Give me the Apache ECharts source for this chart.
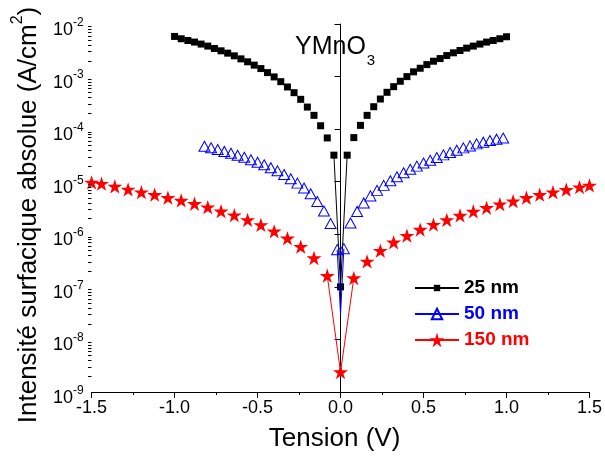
<!DOCTYPE html>
<html><head><meta charset="utf-8">
<script src="https://cdn.jsdelivr.net/npm/echarts@6/dist/echarts.min.js"></script>
<style>html,body{margin:0;padding:0;background:#fff}#c{width:605px;height:458px}</style>
</head><body><div id="c"></div>
<script>
// ---------- data ----------
const seriesNames = ['25 nm', '50 nm', '150 nm'];
const seriesColors = ['#000000', '#0000FF', '#FF0000'];

const v25 = [-1.00,-0.96,-0.92,-0.88,-0.84,-0.80,-0.76,-0.72,-0.68,-0.64,-0.60,-0.56,-0.52,-0.48,-0.44,-0.40,-0.36,-0.32,-0.28,-0.24,-0.20,-0.16,-0.12,-0.08,-0.04,
  0,
  0.04,0.08,0.12,0.16,0.20,0.24,0.28,0.32,0.36,0.40,0.44,0.48,0.52,0.56,0.60,0.64,0.68,0.72,0.76,0.80,0.84,0.88,0.92,0.96,1.00];
const j25 = [5.80e-3,5.24e-3,4.86e-3,4.53e-3,4.15e-3,3.80e-3,3.42e-3,3.09e-3,2.79e-3,2.48e-3,2.17e-3,1.91e-3,1.65e-3,1.42e-3,1.19e-3,9.85e-4,8.0e-4,6.34e-4,4.94e-4,3.69e-4,2.63e-4,1.83e-4,1.16e-4,6.8e-5,3.2e-5,
  1.0e-7,
  3.2e-5,6.9e-5,1.18e-4,1.83e-4,2.67e-4,3.74e-4,5.02e-4,6.43e-4,8.15e-4,9.98e-4,1.23e-3,1.44e-3,1.69e-3,1.96e-3,2.20e-3,2.51e-3,2.83e-3,3.13e-3,3.48e-3,3.80e-3,4.15e-3,4.53e-3,4.86e-3,5.24e-3,5.72e-3];

const v50 = [-0.82,-0.78,-0.74,-0.70,-0.66,-0.62,-0.58,-0.54,-0.50,-0.46,-0.42,-0.38,-0.34,-0.30,-0.26,-0.22,-0.18,-0.14,-0.10,-0.06,-0.02,
  0,
  0.02,0.06,0.10,0.14,0.18,0.22,0.26,0.30,0.34,0.38,0.42,0.46,0.50,0.54,0.58,0.62,0.66,0.70,0.74,0.78,0.82,0.86,0.90,0.94,0.98];
const j50 = [4.73e-5,4.43e-5,4.09e-5,3.77e-5,3.48e-5,3.19e-5,2.92e-5,2.61e-5,2.34e-5,2.10e-5,1.85e-5,1.61e-5,1.37e-5,1.14e-5,9.4e-6,7.6e-6,5.9e-6,4.2e-6,2.77e-6,1.6e-6,5.1e-7,
  3.0e-8,
  5.33e-7,1.64e-6,2.72e-6,3.95e-6,5.37e-6,6.84e-6,8.51e-6,1.04e-5,1.24e-5,1.48e-5,1.72e-5,1.98e-5,2.27e-5,2.56e-5,2.89e-5,3.24e-5,3.60e-5,3.97e-5,4.40e-5,4.80e-5,5.24e-5,5.65e-5,6.06e-5,6.44e-5,6.79e-5];

const v150 = [-1.50,-1.44,-1.36,-1.28,-1.20,-1.12,-1.04,-0.96,-0.88,-0.80,-0.72,-0.64,-0.56,-0.48,-0.40,-0.32,-0.24,-0.16,-0.08,
  0,
  0.08,0.16,0.24,0.32,0.40,0.48,0.56,0.64,0.72,0.80,0.88,0.96,1.04,1.12,1.20,1.28,1.36,1.44,1.50];
const j150 = [9.72e-6,9.18e-6,8.15e-6,7.14e-6,6.34e-6,5.66e-6,4.96e-6,4.40e-6,3.81e-6,3.28e-6,2.75e-6,2.31e-6,1.88e-6,1.51e-6,1.14e-6,8.39e-7,5.82e-7,3.54e-7,1.63e-7,
  2.4e-9,
  1.47e-7,3.05e-7,4.89e-7,7.04e-7,9.44e-7,1.23e-6,1.53e-6,1.88e-6,2.28e-6,2.72e-6,3.19e-6,3.74e-6,4.27e-6,4.96e-6,5.66e-6,6.34e-6,7.05e-6,7.91e-6,8.5e-6];

const xTicks = [-1.5, -1.0, -0.5, 0, 0.5, 1.0, 1.5];
const xTickLabels = ['-1.5', '-1.0', '-0.5', '0.0', '0.5', '1.0', '1.5'];
const yTickExponents = [-9, -8, -7, -6, -5, -4, -3, -2];
const yTickLabels = ['-9', '-8', '-7', '-6', '-5', '-4', '-3', '-2'];

const titleMain = 'YMnO';
const titleSub = '3';
const xTitle = 'Tension (V)';
const yTitleMain = 'Intensité surfacique absolue (A/cm';
const yTitleSup = '2';
const yTitleEnd = ')';

// ---------- build ----------
const FONT = '"Liberation Sans", Arial, sans-serif';
const STAR = 'path://M50,0L61.23,34.55L97.55,34.55L68.17,55.9L79.39,90.45L50,69.1L20.61,90.45L31.83,55.9L2.45,34.55L38.77,34.55Z';

// line segments are only drawn next to V = 0 (elsewhere symbols only)
function buildData(vs, js, hideZeroSymbol) {
  const out = [];
  for (let i = 0; i < vs.length; i++) {
    const item = { value: [vs[i], js[i]] };
    if (vs[i] === 0 && hideZeroSymbol) item.symbolSize = 0;
    out.push(item);
    if (i < vs.length - 1 && vs[i] !== 0 && vs[i + 1] !== 0) {
      out.push({ value: [vs[i], '-'] });
    }
  }
  return out;
}

const minorY = [];
for (let n = 0; n < yTickExponents.length - 1; n++) {
  for (let k = 2; k <= 9; k++) minorY.push([xTicks[0], k * Math.pow(10, yTickExponents[n])]);
}

const chart = echarts.init(document.getElementById('c'), null, { renderer: 'canvas' });

function legendFor(i, top, itemHeight) {
  return {
    data: [seriesNames[i]],
    left: 414, top: top, orient: 'vertical', padding: 0,
    itemWidth: 44, itemHeight: itemHeight,
    selectedMode: false,
    textStyle: { fontFamily: FONT, fontSize: 19, fontWeight: 'bold', color: seriesColors[i], lineHeight: 20 }
  };
}

chart.setOption({
  animation: false,
  backgroundColor: '#fff',
  title: {
    text: '{a|' + titleMain + '}{b|' + titleSub + '}',
    left: 295, top: 35, padding: 0,
    textStyle: {
      fontWeight: 'normal',
      rich: {
        a: { fontFamily: FONT, fontSize: 25, fontWeight: 'normal', lineHeight: 30, verticalAlign: 'top', color: '#000' },
        b: { fontFamily: FONT, fontSize: 15, fontWeight: 'normal', lineHeight: 15, verticalAlign: 'top', padding: [18, 0, 0, 1], color: '#000' }
      }
    }
  },
  legend: [legendFor(0, 278, 8), legendFor(1, 304, 13), legendFor(2, 330, 18)],
  grid: { left: 91, right: 14, top: 24, bottom: 66, containLabel: false },
  xAxis: {
    type: 'value', min: -1.5, max: 1.5, interval: 0.5,
    name: xTitle, nameLocation: 'middle', nameGap: 34,
    nameTextStyle: { fontFamily: FONT, fontSize: 26, color: '#000', padding: [0, 12, 0, 0] },
    axisLine: { show: true, onZero: false, lineStyle: { color: '#000', width: 1 } },
    axisTick: { show: true, inside: false, length: 6, lineStyle: { color: '#000' } },
    minorTick: { show: true, splitNumber: 2, length: 3, lineStyle: { color: '#000' } },
    splitLine: { show: false }, minorSplitLine: { show: false },
    axisLabel: {
      fontFamily: FONT, fontSize: 18, color: '#000', margin: 7,
      formatter: function (v) {
        const i = xTicks.findIndex(t => Math.abs(t - v) < 1e-9);
        return i >= 0 ? xTickLabels[i] : '';
      }
    }
  },
  yAxis: {
    type: 'log', logBase: 10, min: 1e-9, max: 1e-2, splitNumber: 7,
    name: '{n|' + yTitleMain + '}{s|' + yTitleSup + '}{n|' + yTitleEnd + '}',
    nameLocation: 'middle', nameGap: 49, nameRotate: 90,
    nameTextStyle: {
      padding: [0, 14, 0, 0],
      rich: {
        n: { fontFamily: FONT, fontSize: 26, lineHeight: 26, verticalAlign: 'top', padding: [8, 0, 0, 0], color: '#000' },
        s: { fontFamily: FONT, fontSize: 16, lineHeight: 16, verticalAlign: 'top', padding: [2, 0, 0, 0], color: '#000' }
      }
    },
    axisLine: { show: true, lineStyle: { color: '#000', width: 1 } },
    axisTick: { show: true, inside: false, length: 6, lineStyle: { color: '#000' } },
    minorTick: { show: false },
    splitLine: { show: false },
    axisLabel: {
      margin: 8,
      formatter: function (v) {
        const e = Math.round(Math.log10(v));
        const i = yTickExponents.indexOf(e);
        return i >= 0 ? '{b|10}{s|' + yTickLabels[i] + '}' : '';
      },
      rich: {
        b: { fontFamily: FONT, fontSize: 18, lineHeight: 18, verticalAlign: 'top', padding: [6, 0, 6, 0], color: '#000' },
        s: { fontFamily: FONT, fontSize: 12, lineHeight: 12, verticalAlign: 'top', padding: [1.5, 0, 0, 0], color: '#000' }
      }
    }
  },
  series: [
    {
      name: seriesNames[0], type: 'line', data: buildData(v25, j25, false),
      symbol: 'rect', symbolSize: 7, connectNulls: false, clip: true,
      itemStyle: { color: seriesColors[0] },
      lineStyle: { color: seriesColors[0], width: 1 },
      emphasis: { disabled: true }, z: 2
    },
    {
      name: seriesNames[1], type: 'line', data: buildData(v50, j50, true),
      symbol: 'triangle', symbolSize: [11, 10], connectNulls: false, clip: true,
      itemStyle: { color: 'rgba(0,0,0,0)', borderColor: seriesColors[1], borderWidth: 1 },
      lineStyle: { color: seriesColors[1], width: 1 },
      emphasis: { disabled: true }, z: 3
    },
    {
      name: seriesNames[2], type: 'line', data: buildData(v150, j150, false),
      symbol: STAR, symbolSize: [15, 14.3], connectNulls: false, clip: true,
      itemStyle: { color: seriesColors[2] },
      lineStyle: { color: seriesColors[2], width: 1 },
      emphasis: { disabled: true }, z: 4
    },
    {
      type: 'custom', silent: true, clip: false, data: minorY, z: 5,
      renderItem: function (params, api) {
        const p = api.coord([api.value(0), api.value(1)]);
        const x = Math.round(p[0]) - 0.5, y = Math.round(p[1]) + 0.5;
        return { type: 'line', shape: { x1: x - 3.5, y1: y, x2: x, y2: y }, style: { stroke: '#000', lineWidth: 1 } };
      }
    }
  ]
});
</script>
</body></html>
